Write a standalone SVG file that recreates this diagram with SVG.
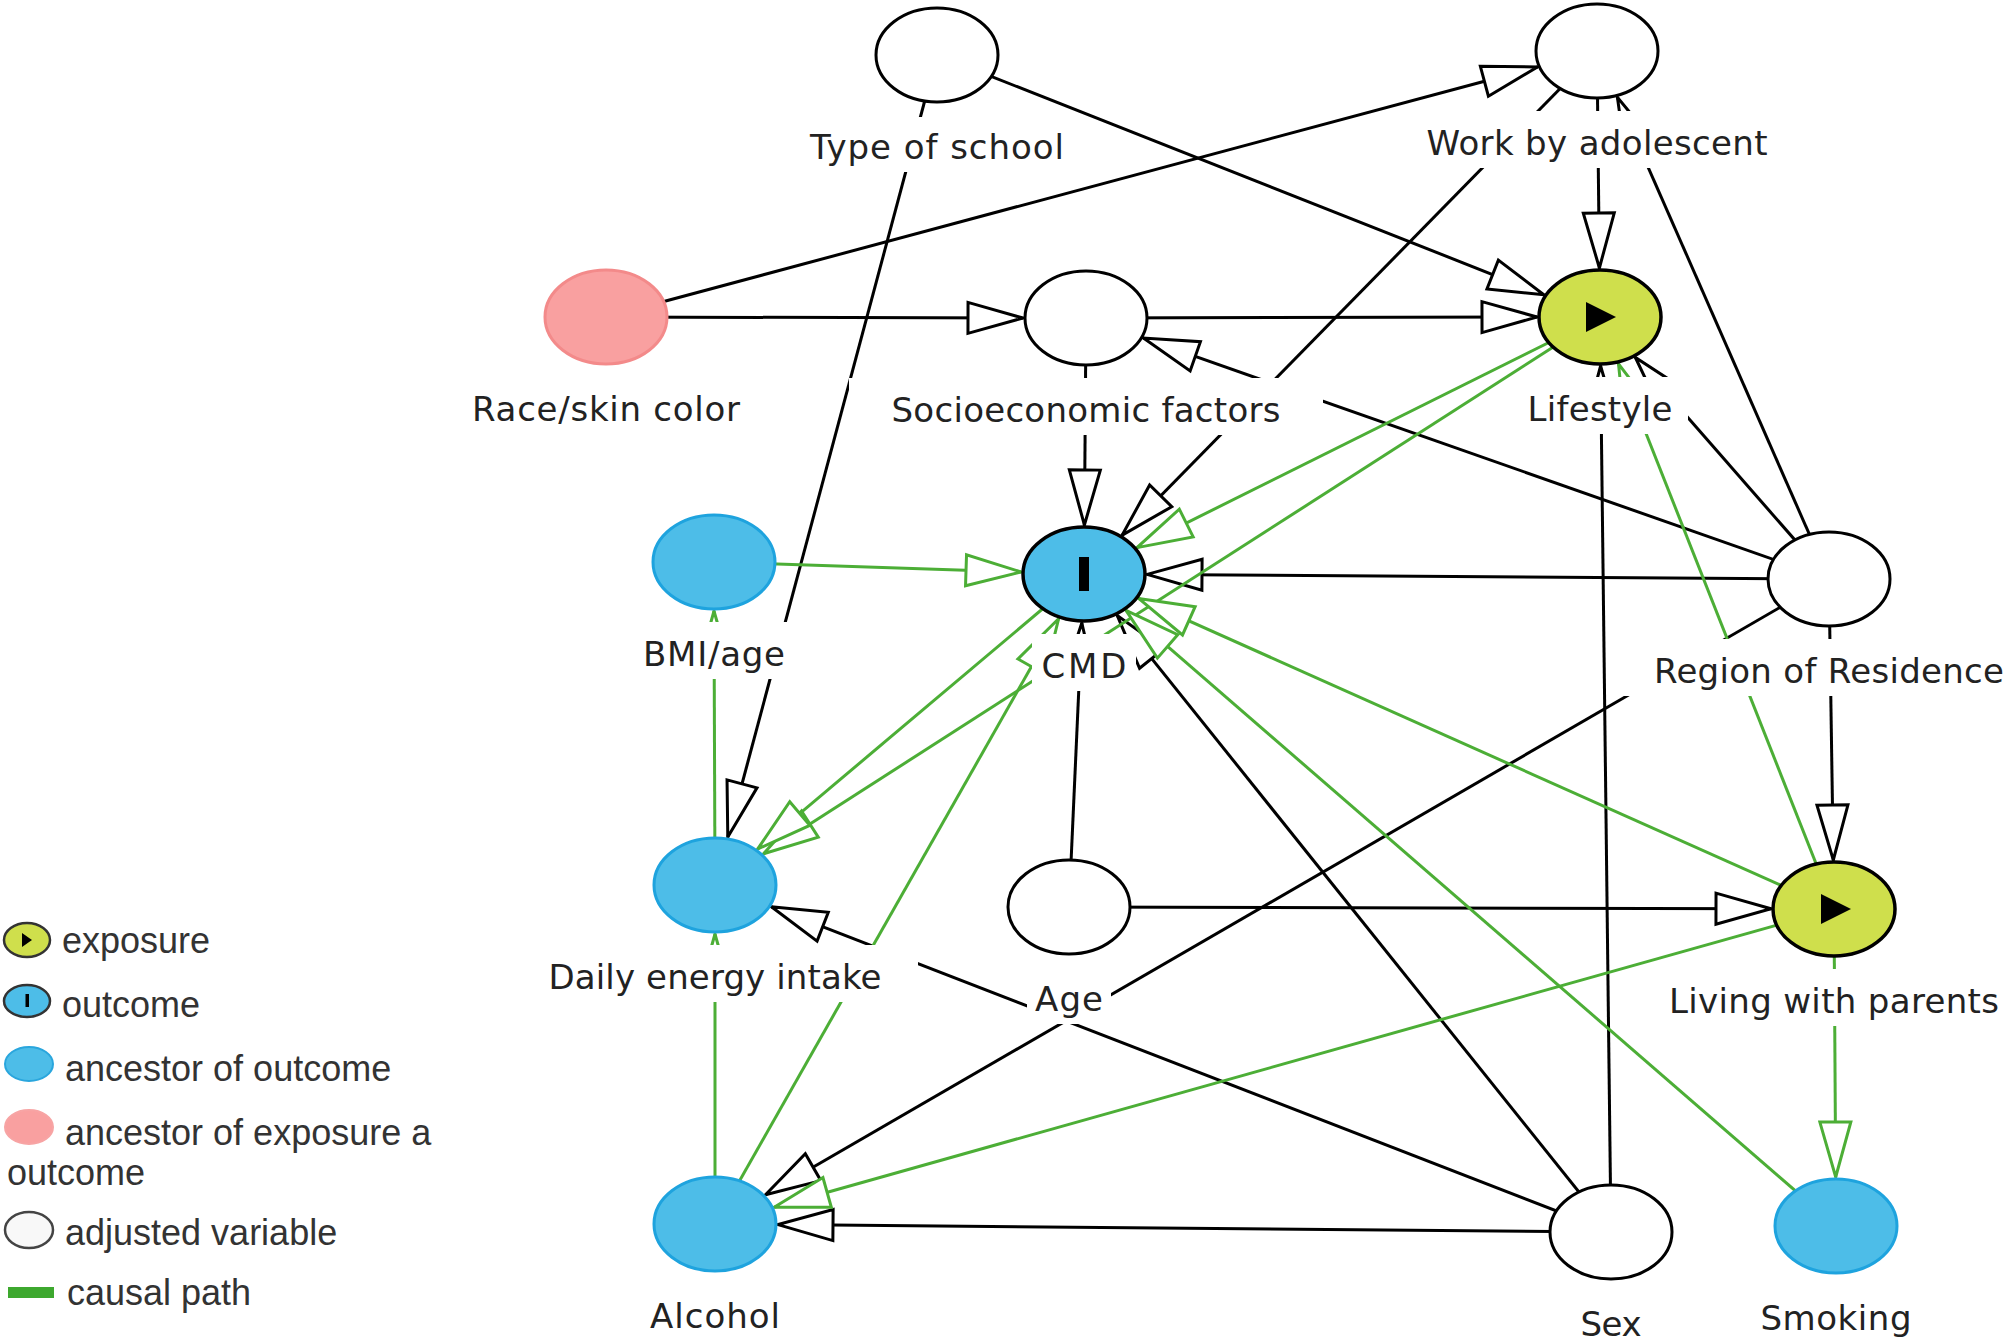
<svg xmlns="http://www.w3.org/2000/svg" width="2008" height="1341" viewBox="0 0 2008 1341">
<style>
.e{stroke:#000;stroke-width:3;fill:none;marker-end:url(#ab)}
.g{stroke:#4cae36;stroke-width:3;fill:none;marker-end:url(#ag)}
.adj{fill:#fff;stroke:#000;stroke-width:3}
.anc{fill:#4dbde8;stroke:#1ea3de;stroke-width:3}
.exp{fill:#cfdf4c;stroke:#000;stroke-width:3.5}
.out{fill:#4dbde8;stroke:#000;stroke-width:3.5}
.pink{fill:#f9a0a0;stroke:#f38a8a;stroke-width:3}
.bg{fill:#fff}
.lb{font-family:"DejaVu Sans","Liberation Sans",sans-serif;font-size:34px;fill:#222;text-anchor:middle}
.lg{font-family:"Liberation Sans",Arial,sans-serif;font-size:36px;fill:#333}
</style>
<defs>
<marker id="ab" markerUnits="userSpaceOnUse" viewBox="-60 -20 62 40" markerWidth="62" markerHeight="40" refX="0" refY="0" orient="auto">
<path d="M0,0 L-55,-15.5 L-55,15.5 Z" fill="#fff" stroke="#000" stroke-width="3"/>
</marker>
<marker id="ag" markerUnits="userSpaceOnUse" viewBox="-60 -20 62 40" markerWidth="62" markerHeight="40" refX="0" refY="0" orient="auto">
<path d="M0,0 L-55,-15.5 L-55,15.5 Z" fill="#fff" stroke="#4cae36" stroke-width="3"/>
</marker>
</defs>
<rect width="2008" height="1341" fill="#fff"/>
<g id="connectors">
<line class="e" x1="606" y1="317" x2="1537.5" y2="67"/>
<line class="e" x1="606" y1="317" x2="1023" y2="318"/>
<line class="e" x1="937" y1="55" x2="1543.8" y2="294.8"/>
<line class="e" x1="937" y1="55" x2="727.8" y2="837"/>
<line class="e" x1="1086" y1="318" x2="1537" y2="317"/>
<line class="e" x1="1086" y1="318" x2="1084.4" y2="525"/>
<line class="e" x1="1597" y1="51" x2="1599.4" y2="268"/>
<line class="e" x1="1597" y1="51" x2="1122.2" y2="535.1"/>
<line class="e" x1="1829" y1="579" x2="1617.4" y2="97.3"/>
<line class="e" x1="1829" y1="579" x2="1635.4" y2="357.5"/>
<line class="e" x1="1829" y1="579" x2="1143.4" y2="338.1"/>
<line class="e" x1="1829" y1="579" x2="1147" y2="574.4"/>
<line class="e" x1="1829" y1="579" x2="1833.3" y2="860"/>
<line class="e" x1="1829" y1="579" x2="765.5" y2="1194.8"/>
<line class="e" x1="1611" y1="1232" x2="771.4" y2="906.8"/>
<line class="e" x1="1611" y1="1232" x2="1117.3" y2="615.6"/>
<line class="e" x1="1611" y1="1232" x2="1600.6" y2="366"/>
<line class="e" x1="1611" y1="1232" x2="778" y2="1224.6"/>
<line class="e" x1="1069" y1="907" x2="1081.8" y2="623"/>
<line class="e" x1="1069" y1="907" x2="1771" y2="908.8"/>
<line class="g" x1="714" y1="562" x2="1021" y2="572"/>
<line class="g" x1="1600" y1="317" x2="1137" y2="547.6"/>
<line class="g" x1="1600" y1="317" x2="763.6" y2="853.8"/>
<line class="g" x1="1084" y1="574" x2="757.7" y2="849"/>
<line class="g" x1="715" y1="1224" x2="1058.6" y2="618.8"/>
<line class="g" x1="1834" y1="909" x2="1138.6" y2="598.4"/>
<line class="g" x1="1836" y1="1226" x2="1126" y2="610.4"/>
<line class="g" x1="1834" y1="909" x2="774.2" y2="1207.3"/>
<line class="g" x1="1834" y1="909" x2="1835.7" y2="1177"/>
<line class="g" x1="1834" y1="909" x2="1618.5" y2="363.8"/>
<line class="g" x1="715" y1="885" x2="714" y2="611"/>
<line class="g" x1="715" y1="1224" x2="715" y2="934"/>
</g>
<g id="type-of-school">
<ellipse class="adj" cx="937" cy="55" rx="61" ry="47"/>
<rect class="bg" x="789" y="117" width="296" height="55"/>
<text class="lb" x="937" y="159" textLength="254" lengthAdjust="spacing">Type of school</text>
</g>
<g id="work-by-adolescent">
<ellipse class="adj" cx="1597" cy="51" rx="61" ry="47"/>
<rect class="bg" x="1389" y="111" width="416" height="57"/>
<text class="lb" x="1597" y="155" textLength="341" lengthAdjust="spacing">Work by adolescent</text>
</g>
<g id="race-skin-color">
<ellipse class="pink" cx="606" cy="317" rx="61" ry="47"/>
<rect class="bg" x="443" y="377" width="327" height="57"/>
<text class="lb" x="606" y="421" textLength="268" lengthAdjust="spacing">Race/skin color</text>
</g>
<g id="socioeconomic-factors">
<ellipse class="adj" cx="1086" cy="318" rx="61" ry="47"/>
<rect class="bg" x="849" y="378" width="474" height="57"/>
<text class="lb" x="1086" y="422" textLength="389" lengthAdjust="spacing">Socioeconomic factors</text>
</g>
<g id="lifestyle">
<ellipse class="exp" cx="1600" cy="317" rx="61" ry="47"/>
<polygon points="1586,302 1586,332 1616,317" fill="#000"/>
<rect class="bg" x="1512" y="377" width="176" height="57"/>
<text class="lb" x="1600" y="421" textLength="145" lengthAdjust="spacing">Lifestyle</text>
</g>
<g id="bmi-age">
<ellipse class="anc" cx="714" cy="562" rx="61" ry="47"/>
<rect class="bg" x="628" y="622" width="173" height="57"/>
<text class="lb" x="714" y="666" textLength="142" lengthAdjust="spacing">BMI/age</text>
</g>
<g id="cmd">
<ellipse class="out" cx="1084" cy="574" rx="61" ry="47"/>
<rect x="1079" y="557" width="10" height="34" fill="#000"/>
<rect class="bg" x="1032" y="634" width="104" height="57"/>
<text class="lb" x="1084" y="678" textLength="85" lengthAdjust="spacing">CMD</text>
</g>
<g id="region-of-residence">
<ellipse class="adj" cx="1829" cy="579" rx="61" ry="47"/>
<rect class="bg" x="1615" y="639" width="428" height="57"/>
<text class="lb" x="1829" y="683" textLength="350" lengthAdjust="spacing">Region of Residence</text>
</g>
<g id="daily-energy-intake">
<ellipse class="anc" cx="715" cy="885" rx="61" ry="47"/>
<rect class="bg" x="512" y="945" width="406" height="57"/>
<text class="lb" x="715" y="989" textLength="333" lengthAdjust="spacing">Daily energy intake</text>
</g>
<g id="age">
<ellipse class="adj" cx="1069" cy="907" rx="61" ry="47"/>
<rect class="bg" x="1027" y="967" width="84" height="57"/>
<text class="lb" x="1069" y="1011" textLength="68" lengthAdjust="spacing">Age</text>
</g>
<g id="living-with-parents">
<ellipse class="exp" cx="1834" cy="909" rx="61" ry="47"/>
<polygon points="1821,894 1821,924 1851,909" fill="#000"/>
<rect class="bg" x="1633" y="969" width="403" height="57"/>
<text class="lb" x="1834" y="1013" textLength="330" lengthAdjust="spacing">Living with parents</text>
</g>
<g id="alcohol">
<ellipse class="anc" cx="715" cy="1224" rx="61" ry="47"/>
<rect class="bg" x="636" y="1284" width="159" height="57"/>
<text class="lb" x="715" y="1328" textLength="130" lengthAdjust="spacing">Alcohol</text>
</g>
<g id="sex">
<ellipse class="adj" cx="1611" cy="1232" rx="61" ry="47"/>
<rect class="bg" x="1574" y="1292" width="74" height="49"/>
<text class="lb" x="1611" y="1336" textLength="61" lengthAdjust="spacing">Sex</text>
</g>
<g id="smoking">
<ellipse class="anc" cx="1836" cy="1226" rx="61" ry="47"/>
<rect class="bg" x="1744" y="1286" width="184" height="55"/>
<text class="lb" x="1836" y="1330" textLength="151" lengthAdjust="spacing">Smoking</text>
</g>
<g id="legend">
<ellipse cx="27" cy="940" rx="23" ry="17" fill="#cfdf4c" stroke="#333" stroke-width="2.5"/>
<polygon points="22,933 22,947 32,940" fill="#000"/>
<text class="lg" x="62" y="953">exposure</text>
<ellipse cx="27" cy="1001" rx="23" ry="16" fill="#4dbde8" stroke="#333" stroke-width="2.5"/>
<rect x="25.5" y="994" width="3.5" height="13" fill="#000"/>
<text class="lg" x="62" y="1017">outcome</text>
<ellipse cx="29" cy="1064" rx="24" ry="17" fill="#4dbde8" stroke="#2aa6dd" stroke-width="2"/>
<text class="lg" x="65" y="1081">ancestor of outcome</text>
<ellipse cx="29" cy="1127" rx="24" ry="17" fill="#f9a0a0" stroke="#f7a4a4" stroke-width="2"/>
<text class="lg" x="65" y="1145">ancestor of exposure a</text>
<text class="lg" x="7" y="1185">outcome</text>
<ellipse cx="29" cy="1230" rx="24" ry="18" fill="#f8f8f8" stroke="#444" stroke-width="2.5"/>
<text class="lg" x="65" y="1245">adjusted variable</text>
<rect x="8" y="1287" width="46" height="11" fill="#3da82e"/>
<text class="lg" x="67" y="1305">causal path</text>
</g>
</svg>
